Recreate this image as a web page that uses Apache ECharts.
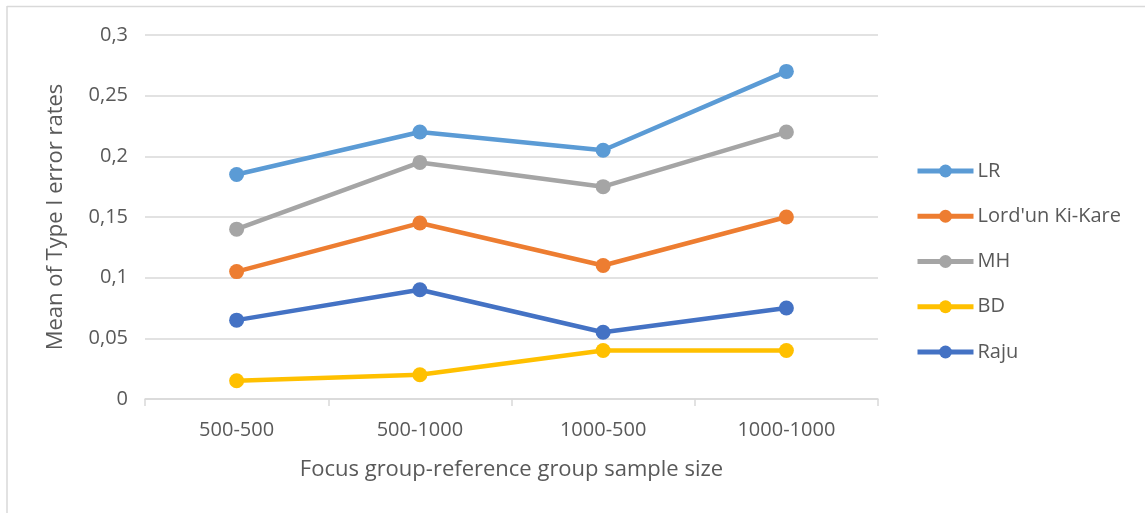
<!DOCTYPE html>
<html>
<head>
<meta charset="utf-8">
<script src="https://cdn.jsdelivr.net/npm/echarts@6/dist/echarts.min.js"></script>
<style>
  html, body { margin: 0; padding: 0; background: #fff; }
  #chart { width: 1145px; height: 513px; }
</style>
</head>
<body>
<div id="chart"></div>
<script>
// Sample-size conditions (focus group - reference group)
const categories = ['500-500', '500-1000', '1000-500', '1000-1000'];

// Mean Type I error rate per method
const lrValues    = [0.185, 0.22, 0.205, 0.27];
const lordValues  = [0.105, 0.145, 0.11, 0.15];
const mhValues    = [0.14, 0.195, 0.175, 0.22];
const bdValues    = [0.015, 0.02, 0.04, 0.04];
const rajuValues  = [0.065, 0.09, 0.055, 0.075];

const seriesNames = ['LR', "Lord'un Ki-Kare", 'MH', 'BD', 'Raju'];
const seriesData  = [lrValues, lordValues, mhValues, bdValues, rajuValues];
const colors      = ['#5B9BD5', '#ED7D31', '#A5A5A5', '#FFC000', '#4472C4'];

const FONT = '"Open Sans", "Liberation Sans", sans-serif';
const TEXT = '#595959';

const chart = echarts.init(document.getElementById('chart'));
chart.setOption({
  animation: false,
  textStyle: { fontFamily: FONT },
  graphic: [
    { type: 'line', shape: { x1: 7, y1: 6.5, x2: 1145, y2: 6.5 }, style: { stroke: '#d9d9d9', lineWidth: 1.5 } },
    { type: 'line', shape: { x1: 7, y1: 6, x2: 7, y2: 513 }, style: { stroke: '#d9d9d9', lineWidth: 1.5 } }
  ],
  grid: { left: 145, right: 267, top: 35, bottom: 114 },
  legend: {
    orient: 'vertical',
    left: 915,
    top: 161,
    padding: 0,
    itemWidth: 56,
    itemHeight: 16,
    itemGap: 25.25,
    data: seriesNames,
    lineStyle: { width: 5 },
    textStyle: { fontFamily: FONT, fontSize: 20, color: TEXT, padding: [0, 0, 0, -1] }
  },
  xAxis: {
    type: 'category',
    data: categories,
    boundaryGap: true,
    name: 'Focus group-reference group sample size',
    nameLocation: 'middle',
    nameGap: 60,
    nameTextStyle: { fontFamily: FONT, fontSize: 22, color: TEXT },
    axisLine: { lineStyle: { color: '#d9d9d9', width: 1.5 } },
    axisTick: { show: true, length: 7, lineStyle: { color: '#d9d9d9', width: 1.5 } },
    axisLabel: { fontFamily: FONT, fontSize: 20, color: TEXT, margin: 21 }
  },
  yAxis: {
    type: 'value',
    min: 0,
    max: 0.3,
    interval: 0.05,
    name: 'Mean of Type I error rates',
    nameLocation: 'middle',
    nameGap: 78,
    nameTextStyle: { fontFamily: FONT, fontSize: 22, color: TEXT },
    axisLine: { show: false },
    axisTick: { show: false },
    splitLine: { lineStyle: { color: '#d9d9d9', width: 1.5 } },
    axisLabel: {
      fontFamily: FONT, fontSize: 20, color: TEXT, margin: 17,
      formatter: v => String(Math.round(v * 100) / 100).replace('.', ',')
    }
  },
  series: seriesNames.map((name, i) => ({
    name,
    type: 'line',
    data: seriesData[i],
    color: colors[i],
    symbol: 'circle',
    symbolSize: 15,
    lineStyle: { width: 4.5, color: colors[i] },
    itemStyle: { color: colors[i] },
    z: 10 - i
  }))
});
</script>
</body>
</html>
